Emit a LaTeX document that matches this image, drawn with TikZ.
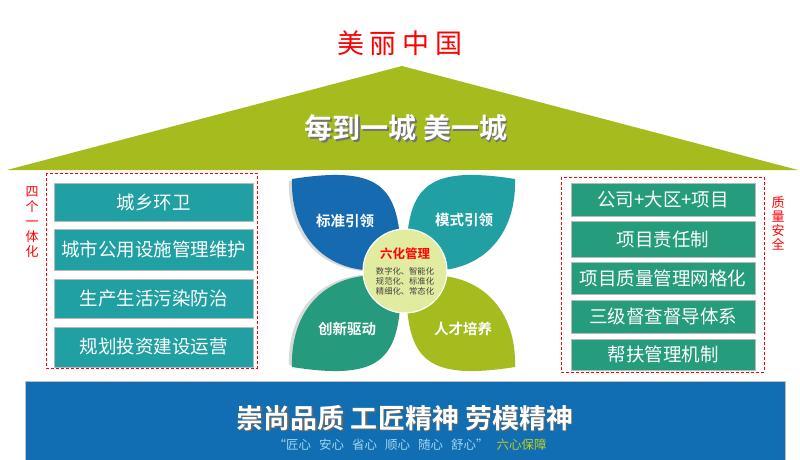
\documentclass[tikz,border=0pt]{standalone}
\usepackage{fontspec}
\usepackage{xcolor}
\usetikzlibrary{positioning}
\newfontfamily\cjk{Noto Sans CJK SC}[BoldFont={Noto Sans CJK SC Bold}]
\definecolor{roofgreen}{RGB}{165,187,30}
\definecolor{barblue}{RGB}{17,110,179}
\definecolor{boxteal}{RGB}{32,160,162}
\definecolor{boxgreen}{RGB}{37,156,124}
\definecolor{leafblue}{RGB}{22,106,176}
\definecolor{leafteal}{RGB}{32,160,163}
\definecolor{leafgreen}{RGB}{38,154,124}
\definecolor{leafolive}{RGB}{165,187,30}
\definecolor{hubfill}{RGB}{226,236,160}
\definecolor{sublight}{RGB}{160,214,240}
\definecolor{subolive}{RGB}{190,205,30}

\begin{document}
\begin{tikzpicture}[x=1pt, y=-1pt, every node/.style={inner sep=0pt, font=\cjk},
  lbox/.style={draw=gray!55, fill=boxteal, text=white, minimum width=199pt, font=\cjk\fontsize{18.5}{20}\selectfont},
  rbox/.style={draw=gray!55, fill=boxgreen, text=white, minimum width=184pt, font=\cjk\fontsize{18.5}{20}\selectfont},
  group/.style={draw=red, densely dashed, line width=0.8pt},
  side/.style={text=red, align=center, font=\cjk\fontsize{13}{15}\selectfont},
  leaftext/.style={text=white, font=\cjk\bfseries\fontsize{14.5}{16}\selectfont},
  leafshadow/.style={fill=gray!30},
  smalltext/.style={text=black!75, align=center, font=\cjk\fontsize{8.3}{10}\selectfont}]
  \useasboundingbox (0,0) rectangle (800,460);

  % roof
  \fill[roofgreen] (7,170) -- (402,66) -- (798,170) -- cycle;
  \node[text=red, font=\cjk\fontsize{27}{30}\selectfont] (china) at (400,43)
    {美\hspace{6pt}丽\hspace{6pt}中\hspace{6pt}国};
  \node[text=black!55, font=\cjk\bfseries\fontsize{28}{30}\selectfont] (mottoshadow) at (407.5,129.5) {每到一城 美一城};
  \node[text=white, font=\cjk\bfseries\fontsize{28}{30}\selectfont] (motto) at (406,128) {每到一城 美一城};

  % left column
  \draw[group] (46,173) rectangle (257,368);
  \node[side] (fourone) at (32,222) {四\\个\\一\\体\\化};
  \node[lbox, minimum height=38pt] (sanit) at (153.5,202) {城乡环卫};
  \node[lbox, minimum height=41pt] (facil) at (153.5,249.5) {城市公用设施管理维护};
  \node[lbox, minimum height=39pt] (pollu) at (153.5,298.5) {生产生活污染防治};
  \node[lbox, minimum height=40pt] (plan) at (153.5,347) {规划投资建设运营};

  % right column
  \draw[group] (561,177) rectangle (764,372);
  \node[side, font=\cjk\fontsize{13}{14}\selectfont] (quality) at (778,223) {质\\量\\安\\全};
  \node[rbox, minimum height=33pt] (company) at (663,199.5) {公司+大区+项目};
  \node[rbox, minimum height=36pt] (duty) at (663,239) {项目责任制};
  \node[rbox, minimum height=32pt] (grid) at (663,278) {项目质量管理网格化};
  \node[rbox, minimum height=33pt] (superv) at (663,316.5) {三级督查督导体系};
  \node[rbox, minimum height=31pt] (helper) at (663,354.5) {帮扶管理机制};

  % four leaves
  \fill[leafshadow] (289,181) .. controls (385,166) and (402,192) .. (401,268) .. controls (330,284) and (287,242) .. cycle;
  \fill[leafshadow] (289,365) .. controls (385,380) and (402,354) .. (401,278) .. controls (330,262) and (287,304) .. cycle;
  \fill[leafblue] (292,179) .. controls (387,164) and (401,190) .. (401,268) .. controls (332,282) and (290,240) .. cycle;
  \fill[leafteal] (515,179) .. controls (420,164) and (406,190) .. (406,268) .. controls (475,282) and (517,240) .. cycle;
  \fill[leafgreen] (292,367) .. controls (387,382) and (401,356) .. (401,278) .. controls (332,264) and (290,306) .. cycle;
  \fill[leafolive] (515,367) .. controls (420,382) and (406,356) .. (406,278) .. controls (475,264) and (517,306) .. cycle;
  \node[leaftext] (lead1) at (345,221) {标准引领};
  \node[leaftext] (lead2) at (464,220) {模式引领};
  \node[leaftext] (innov) at (347,329) {创新驱动};
  \node[leaftext] (talent) at (463,329) {人才培养};

  % hub
  \node[circle, fill=hubfill, draw=white, line width=1.2pt, minimum size=84pt] (hub) at (405,271) {};
  \node[text=red, font=\cjk\bfseries\fontsize{12.5}{14}\selectfont] (six) at (405,254) {六化管理};
  \node[smalltext] (sixlist) at (405,281.5) {数字化、智能化\\规范化、标准化\\精细化、常态化};

  % base bar
  \draw[fill=barblue, draw=gray!50] (25,381) rectangle (785,462);
  \node[text=black!60, font=\cjk\bfseries\fontsize{27}{29}\selectfont] (spiritshadow) at (406.5,419.5) {崇尚品质 工匠精神 劳模精神};
  \node[text=white, font=\cjk\bfseries\fontsize{27}{29}\selectfont] (spirit) at (405,418) {崇尚品质 工匠精神 劳模精神};
  \node[font=\cjk\fontsize{12.5}{14}\selectfont] (sixheart) at (410,445)
    {\textcolor{sublight}{“匠心\hspace{8pt}安心\hspace{8pt}省心\hspace{8pt}顺心\hspace{8pt}随心\hspace{8pt}舒心”}\hspace{8pt}\textcolor{subolive}{六心保障}};
\end{tikzpicture}
\end{document}
